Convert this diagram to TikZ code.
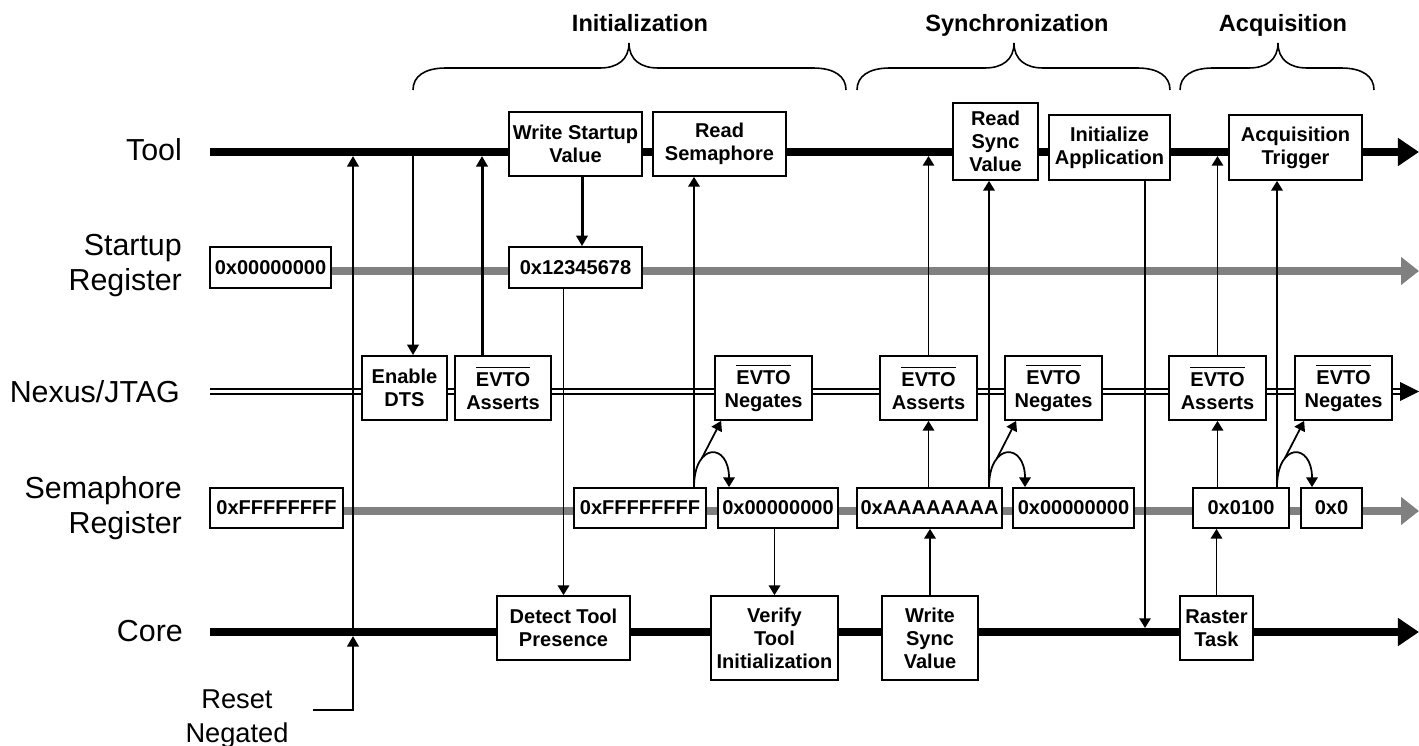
\documentclass[tikz,border=0pt]{standalone}
\usepackage{fontspec}
\setmainfont{Liberation Sans}
\usetikzlibrary{arrows.meta,calc}
\newlength\px
\setlength\px{0.02cm}
\definecolor{reggray}{RGB}{128,128,128}
\newcommand{\negsig}[1]{\vbox{\hrule height 0.7pt\kern 2.6pt\hbox{#1}}}
\newcommand{\phasebrace}[3]{%
	\draw[line width=0.9pt] (#1,90) .. controls (#1,76) and (#1+12,68) .. (#1+33,68) -- (#2-29,68) .. controls (#2-12,68) and (#2,60) .. (#2,43) .. controls (#2,60) and (#2+12,68) .. (#2+29,68) -- (#3-33,68) .. controls (#3-12,68) and (#3,76) .. (#3,90);}
\begin{document}
\begin{tikzpicture}[x=0.02cm, y=-0.02cm,
	box/.style 2 args={draw, fill=white, line width=1pt, inner sep=0pt, align=center, minimum width=#1\px, minimum height=#2\px, font=\bfseries\fontsize{11.4}{13}\selectfont},
	lane/.style={align=right, font=\fontsize{17.3}{19.8}\selectfont},
	phase/.style={anchor=base, font=\bfseries\fontsize{13.4}{16}\selectfont},
	bus/.style={line width=4.5pt, -{Triangle[length=12pt,width=15.3pt]}},
	reg/.style={line width=4.5pt, draw=reggray, -{Triangle[length=10.2pt,width=15.3pt]}},
	conn/.style={line width=1pt, -{Triangle[length=5.5pt,width=6.5pt]}},
	connthick/.style={line width=1.7pt, -{Triangle[length=6pt,width=6.5pt]}}]
	\useasboundingbox (0,0) rectangle (1419,746);
	\coordinate (toolL) at (210,152);
	\coordinate (toolR) at (1419,152);
	\coordinate (startL) at (331,271);
	\coordinate (startR) at (1419,271);
	\coordinate (nexL) at (210,391.5);
	\coordinate (nexR) at (1419,391.5);
	\coordinate (semL) at (343,511);
	\coordinate (semR) at (1419,511);
	\coordinate (coreL) at (210,632);
	\coordinate (coreR) at (1419,632);
	\draw[bus] (toolL) -- (toolR);
	\draw[reg] (startL) -- (startR);
	\draw[line width=0.9pt, double distance=1.7pt] (nexL) -- (1404,391.5);
	\fill (1400,382) -- (nexR) -- (1400,401) -- cycle;
	\draw[reg] (semL) -- (semR);
	\draw[bus] (coreL) -- (coreR);
	\node[lane, anchor=base east] (ltool) at (188,161) {Tool};
	\node[lane, anchor=east] (lstart) at (188,265.5) {Startup\\Register};
	\node[lane, anchor=base east] (lnex) at (186,402) {Nexus/JTAG};
	\node[lane, anchor=east] (lsem) at (188,508) {Semaphore\\Register};
	\node[lane, anchor=base east] (lcore) at (189,641) {Core};
	\node[phase] (pinit) at (640,32) {Initialization};
	\node[phase] (psync) at (1017,32) {Synchronization};
	\node[phase] (pacq) at (1283,32) {Acquisition};
	\phasebrace{413}{629}{846}
	\phasebrace{857}{1014}{1170}
	\phasebrace{1180}{1278}{1374}
	\node[box={133}{64}] (wsv) at (575.5,144) {Write Startup\\Value};
	\node[box={133}{64}] (rsem) at (719.5,144) {Read\\Semaphore};
	\node[box={85}{77}] (rsync) at (995.5,141.5) {Read\\Sync\\Value};
	\node[box={121}{65}] (initapp) at (1109.5,147.5) {Initialize\\Application};
	\node[box={133}{65}] (acqtrig) at (1295.5,147.5) {Acquisition\\Trigger};
	\node[box={121}{41}] (su0) at (270.5,267.5) {0x00000000};
	\node[box={133}{41}] (su1) at (575.5,267.5) {0x12345678};
	\node[box={85}{64}] (dts) at (404.5,388) {Enable\\DTS};
	\node[box={96}{64}] (ea1) at (503,388) {\negsig{EVTO}\\Asserts};
	\node[box={97}{64}] (en1) at (763.5,388) {\negsig{EVTO}\\Negates};
	\node[box={97}{64}] (ea2) at (928.5,388) {\negsig{EVTO}\\Asserts};
	\node[box={97}{64}] (en2) at (1053.5,388) {\negsig{EVTO}\\Negates};
	\node[box={97}{64}] (ea3) at (1217.5,388) {\negsig{EVTO}\\Asserts};
	\node[box={97}{64}] (en3) at (1343.5,388) {\negsig{EVTO}\\Negates};
	\node[box={133}{40}] (sf0) at (276.5,508) {0xFFFFFFFF};
	\node[box={132}{40}] (sf1) at (640,508) {0xFFFFFFFF};
	\node[box={120}{40}] (sz1) at (778,508) {0x00000000};
	\node[box={145}{40}] (sa) at (929.5,508) {0xAAAAAAAA};
	\node[box={121}{40}] (sz2) at (1073.5,508) {0x00000000};
	\node[box={96}{40}] (s100) at (1241,508) {0x0100};
	\node[box={61}{40}] (s0) at (1331.5,508) {0x0};
	\node[box={133}{64}] (detect) at (563.5,628) {Detect Tool\\Presence};
	\node[box={127}{84}] (verify) at (774.5,638) {Verify\\Tool\\Initialization};
	\node[box={96}{84}] (wsync) at (930,638) {Write\\Sync\\Value};
	\node[box={73}{64}] (raster) at (1216.5,628) {Raster\\Task};
	\node[lane, align=center, font=\fontsize{15.5}{19.3}\selectfont] (rstlbl) at (237,719) {Reset\\Negated};
	\coordinate (rst) at (313,710);
	\coordinate (rstx) at (353,0);
	\coordinate (fa) at ($(sf1.north)+(54,0)$);
	\coordinate (ga) at ($(sa.north)+(59.5,0)$);
	\coordinate (ha) at ($(s100.north)+(36,0)$);
	\coordinate (ia) at ($(initapp.south)+(35.5,0)$);
	\draw[connthick, shorten >=2.3pt] (rst) -| (rstx |- coreL);
	\draw[connthick, shorten >=2.3pt] (rstx |- coreL) -- (rstx |- toolL);
	\draw[connthick] ($(dts.north |- toolL)+(8.5,0)$) -- ($(dts.north)+(8.5,0)$);
	\draw[connthick, shorten >=2.3pt] ($(ea1.north)+(-21,0)$) -- ($(ea1.north |- toolL)+(-21,0)$);
	\draw[connthick] ($(wsv.south)+(6.5,0)$) -- ($(su1.north)+(6.5,0)$);
	\draw[conn] (detect.north |- su1.south) -- (detect.north);
	\draw[conn] (fa) -- (fa |- rsem.south);
	\draw[conn] (fa) .. controls +(0,-45) and +(0,-45) .. ($(sz1.north)+(-49,0)$) coordinate[pos=0.3] (fb);
	\draw[conn] (fb) -- ($(en1.south west)+(7,0)$);
	\draw[conn] (verify.north |- sz1.south) -- (verify.north);
	\draw[conn] (wsync.north) -- (wsync.north |- sa.south);
	\draw[conn] (ea2.south |- sa.north) -- (ea2.south);
	\draw[conn, shorten >=2.3pt] (ea2.north) -- (ea2.north |- toolL);
	\draw[conn] (ga) -- (ga |- rsync.south);
	\draw[conn] (ga) .. controls +(0,-45) and +(0,-45) .. ($(sz2.north)+(-48.5,0)$) coordinate[pos=0.3] (gb);
	\draw[conn] (gb) -- ($(en2.south west)+(12,0)$);
	\draw[conn, shorten >=2.3pt] (ia) -- (ia |- coreL);
	\draw[conn] (raster.north) -- (raster.north |- s100.south);
	\draw[conn] (ea3.south |- s100.north) -- (ea3.south);
	\draw[conn, shorten >=2.3pt] (ea3.north) -- (ea3.north |- toolL);
	\draw[conn] (ha) -- (ha |- acqtrig.south);
	\draw[conn] (ha) .. controls +(0,-45) and +(0,-45) .. ($(s0.north)+(-19.5,0)$) coordinate[pos=0.3] (hb);
	\draw[conn] (hb) -- ($(en3.south west)+(10,0)$);
\end{tikzpicture}
\end{document}
